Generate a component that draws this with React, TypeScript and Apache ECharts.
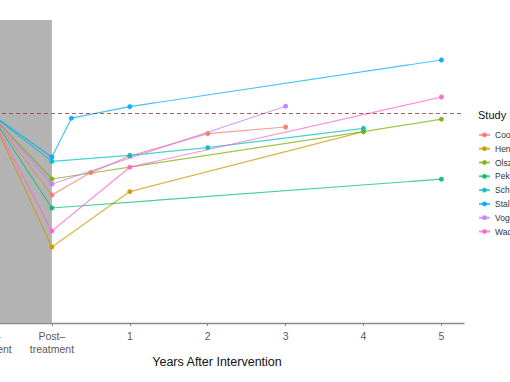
import { useEffect, useRef } from 'react';
import * as echarts from 'echarts';

const studies = ['Cooper', 'Henderson', 'Olszewski', 'Pekkarinen', 'Schembre', 'Stalonas', 'Vogels', 'Wadden'];
const colors = ['#F8766D', '#CD9600', '#7CAE00', '#00BE67', '#00BFC4', '#00A9FF', '#C77CFF', '#FF61CC'];

const cooperX = [-0.8, 0, 0.5, 1, 2, 3];
const cooperY = [100, 59, 70.2, 78.5, 89.7, 93];
const hendersonX = [-0.8, 0, 1, 4];
const hendersonY = [100, 33, 60.7, 90.7];
const olszewskiX = [-0.8, 0, 4, 5];
const olszewskiY = [100, 67, 90.7, 96.9];
const pekkarinenX = [-0.8, 0, 5];
const pekkarinenY = [100, 52.5, 66.9];
const schembreX = [-0.8, 0, 1, 2, 4];
const schembreY = [100, 75.8, 78.8, 82.7, 92.3];
const stalonasX = [-0.8, 0, 0.25, 1, 5];
const stalonasY = [100, 78, 97.4, 103.2, 126.5];
const vogelsX = [-0.8, 0, 3];
const vogelsY = [100, 64.5, 103.4];
const waddenX = [-0.8, 0, 1, 5];
const waddenY = [100, 41, 72.9, 108];

const seriesX = [cooperX, hendersonX, olszewskiX, pekkarinenX, schembreX, stalonasX, vogelsX, waddenX];
const seriesY = [cooperY, hendersonY, olszewskiY, pekkarinenY, schembreY, stalonasY, vogelsY, waddenY];

const tickValues = [-0.8, 0, 1, 2, 3, 4, 5];
const tickLabels = ['Pre–\ntreatment', 'Post–\ntreatment', '1', '2', '3', '4', '5'];
const baseline = 100;
const treatmentEnd = 0;

const FONT = '"Liberation Sans", Arial, Helvetica, sans-serif';
const SHIFT = 100;

export default function App() {
  const ref = useRef<HTMLDivElement>(null);
  useEffect(() => {
    if (!ref.current) return;
    const chart = echarts.init(ref.current, null, { renderer: 'svg' });
    const lineSeries = studies.map((name, i) => ({
      name,
      type: 'line',
      z: 3,
      data: seriesX[i].map((x, j) => [x, seriesY[i][j]]),
      symbol: 'circle',
      symbolSize: 5,
      color: colors[i],
      lineStyle: { width: 1.2, opacity: 0.72, color: colors[i] },
      itemStyle: { color: colors[i], opacity: 0.9 },
      emphasis: { disabled: true },
      clip: true,
    }));
    chart.setOption({
      animation: false,
      backgroundColor: '#ffffff',
      textStyle: { fontFamily: FONT },
      grid: { left: 67, right: 46, top: 20, bottom: 59, containLabel: false },
      xAxis: {
        type: 'value',
        min: -1.09,
        max: 5.29,
        splitLine: { show: false },
        axisLine: { show: true, onZero: false, lineStyle: { color: '#8a8a8a', width: 1.3 } },
        axisTick: { show: true, length: 3, customValues: tickValues, lineStyle: { color: '#8a8a8a', width: 1 } },
        axisLabel: {
          show: true,
          customValues: tickValues,
          margin: 7,
          fontSize: 10.5,
          lineHeight: 12.5,
          color: '#5a5a5a',
          fontFamily: FONT,
          formatter: (v: number) => {
            const i = tickValues.findIndex((t) => Math.abs(t - v) < 1e-6);
            return i >= 0 ? tickLabels[i] : '';
          },
        },
      },
      yAxis: {
        type: 'value',
        min: -5,
        max: 146.5,
        axisLine: { show: false },
        axisTick: { show: false },
        axisLabel: { show: false },
        splitLine: { show: false },
      },
      legend: {
        data: studies,
        orient: 'vertical',
        left: 473 + SHIFT,
        top: 125,
        itemWidth: 11,
        itemHeight: 6,
        itemGap: 4,
        textStyle: { fontSize: 8.5, lineHeight: 9.8, color: '#333333', fontFamily: FONT },
        selectedMode: false,
      },
      graphic: [
        {
          type: 'text',
          left: 478 + SHIFT,
          top: 109,
          style: { text: 'Study', fontSize: 11, fill: '#111111', fontFamily: FONT },
        },
        {
          type: 'text',
          x: 217 + SHIFT,
          y: 362,
          style: {
            text: 'Years After Intervention',
            fontSize: 12.5,
            fill: '#111111',
            fontFamily: FONT,
            align: 'center',
            verticalAlign: 'middle',
          },
        },
      ],
      series: [
        {
          name: 'refs',
          type: 'line',
          z: 1,
          data: [],
          silent: true,
          markArea: {
            silent: true,
            itemStyle: { color: '#b3b3b3', opacity: 1 },
            data: [[{ xAxis: -1.09 }, { xAxis: treatmentEnd }]],
          },
          markLine: {
            silent: true,
            symbol: ['none', 'none'],
            label: { show: false },
            lineStyle: { color: '#8f3f36', type: [4, 3], width: 1.1, opacity: 0.8 },
            data: [{ yAxis: baseline }],
          },
        },
        ...lineSeries,
      ],
    });
    return () => chart.dispose();
  }, []);
  return (
    <div
      ref={ref}
      style={{ position: 'fixed', left: -SHIFT, top: 0, width: 510 + SHIFT, height: 382, background: '#fff' }}
    />
  );
}
